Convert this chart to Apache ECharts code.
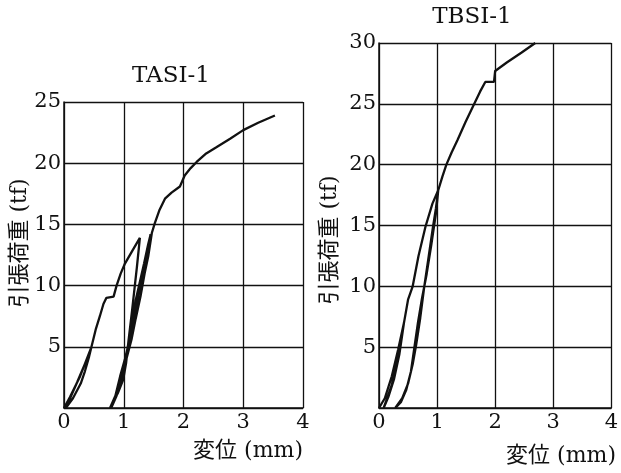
<!DOCTYPE html>
<html>
<head>
<meta charset="utf-8">
<title>TASI-1 / TBSI-1</title>
<script src="https://cdn.jsdelivr.net/npm/echarts@6.0.0/dist/echarts.min.js"></script>
<style>
  html, body { margin: 0; padding: 0; background: #fff; }
  #chart { width: 621px; height: 473px; }
</style>
</head>
<body>
<div id="chart"></div>
<script>
  // 軸目盛
  var xTicks = [0, 1, 2, 3, 4];
  var yTicksA = [0, 5, 10, 15, 20, 25];
  var yTicksB = [0, 5, 10, 15, 20, 25, 30];

  // TASI-1 : [変位 mm, 荷重 tf]
  var tasiLoad1 = [[0, 0], [0.1, 0.9], [0.27, 2.6], [0.46, 5.0]];
  var tasiUnload1 = [[0.42, 4.2], [0.35, 3.0], [0.28, 2.0], [0.15, 0.8], [0.03, 0]];
  var tasiReload1 = [[0.12, 1.0], [0.22, 2.1], [0.35, 3.6], [0.46, 5.0], [0.53, 6.4],
    [0.6, 7.5], [0.66, 8.5], [0.71, 9.0], [0.83, 9.1], [0.88, 10.0], [0.95, 11.0],
    [1.02, 11.8], [1.15, 12.9], [1.27, 13.9]];
  var tasiUnload2 = [[1.22, 11.5], [1.14, 8.0], [1.08, 5.5], [1.04, 3.7], [0.99, 2.3],
    [0.9, 1.2], [0.77, 0]];
  var tasiReload2 = [[0.86, 1.0], [0.94, 2.6], [1.02, 4.0], [1.10, 5.6], [1.17, 7.3],
    [1.24, 9.1], [1.32, 11.0], [1.38, 12.4], [1.45, 14.2]];
  var tasiUnload3 = [[1.41, 13.4], [1.34, 11.8], [1.2, 8.8], [1.12, 6.5], [1.06, 4.8],
    [1.0, 3.1], [0.9, 1.4], [0.79, 0]];
  var tasiReload3 = [[0.88, 1.0], [0.97, 2.6], [1.05, 4.1], [1.13, 5.6], [1.2, 7.3],
    [1.28, 9.1], [1.35, 11.0], [1.41, 12.4], [1.47, 14.3], [1.52, 15.1], [1.6, 16.2],
    [1.69, 17.1], [1.8, 17.6], [1.94, 18.1], [2.02, 19.0], [2.12, 19.6], [2.22, 20.1],
    [2.38, 20.8], [2.55, 21.3], [2.78, 22.0], [3.0, 22.7], [3.25, 23.3], [3.53, 23.9]];

  // TBSI-1 : [変位 mm, 荷重 tf]
  var tbsiLoad1 = [[0, 0], [0.1, 0.8], [0.22, 2.6], [0.33, 4.8], [0.43, 7.0]];
  var tbsiUnload1 = [[0.38, 5.4], [0.3, 3.4], [0.22, 1.9], [0.14, 0.8], [0.08, 0]];
  var tbsiReload1 = [[0.16, 0.9], [0.26, 2.4], [0.35, 4.4], [0.43, 7.0], [0.5, 8.9],
    [0.58, 10.0], [0.68, 12.5], [0.8, 14.9], [0.92, 16.8], [1.02, 17.9]];
  var tbsiUnload2 = [[0.98, 16.0], [0.9, 13.4], [0.82, 11.0], [0.74, 9.0], [0.67, 7.0],
    [0.61, 5.0], [0.55, 3.0], [0.47, 1.5], [0.38, 0.5], [0.28, 0]];
  var tbsiReload2 = [[0.4, 0.8], [0.5, 2.0], [0.58, 3.6], [0.64, 5.2], [0.71, 7.4],
    [0.78, 10.0], [0.86, 12.6], [0.93, 14.9], [0.98, 16.4], [1.02, 17.9], [1.09, 19.0],
    [1.16, 20.0], [1.25, 21.0], [1.35, 22.0], [1.49, 23.5], [1.63, 24.9], [1.74, 26.0],
    [1.83, 26.8], [1.98, 26.8], [2.0, 27.7], [2.2, 28.4], [2.45, 29.2], [2.69, 30.0]];

  var tasiData = [].concat(tasiLoad1, tasiUnload1, tasiReload1, tasiUnload2,
    tasiReload2, tasiUnload3, tasiReload3);
  var tbsiData = [].concat(tbsiLoad1, tbsiUnload1, tbsiReload1, tbsiUnload2, tbsiReload2);

  var serif = '"DejaVu Serif", "Noto Sans CJK JP", serif';
  var ink = '#111';

  function makeX(gridIndex) {
    return {
      type: 'value', gridIndex: gridIndex,
      min: xTicks[0], max: xTicks[xTicks.length - 1], interval: 1,
      axisLine: { show: true, onZero: false, lineStyle: { color: ink, width: 1.5 } },
      axisTick: { show: false },
      axisLabel: { color: ink, fontFamily: serif, fontSize: 21, margin: 4 },
      splitLine: { show: true, lineStyle: { color: ink, width: 1.3 } }
    };
  }
  function makeY(gridIndex, ticks) {
    return {
      type: 'value', gridIndex: gridIndex,
      min: ticks[0], max: ticks[ticks.length - 1], interval: 5,
      axisLine: { show: true, onZero: false, lineStyle: { color: ink, width: 1.5 } },
      axisTick: { show: false },
      axisLabel: { color: ink, fontFamily: serif, fontSize: 21, margin: 3, showMinLabel: false },
      splitLine: { show: true, lineStyle: { color: ink, width: 1.3 } }
    };
  }
  function txt(x, y, text, align, size, rot) {
    return {
      type: 'text', x: x, y: y, rotation: rot || 0,
      style: {
        text: text, fill: ink, font: size + 'px ' + serif,
        align: align, verticalAlign: 'middle'
      }
    };
  }

  var chart = echarts.init(document.getElementById('chart'));
  chart.setOption({
    animation: false,
    grid: [
      { left: 64, top: 102, width: 239, height: 306 },
      { left: 379, top: 43, width: 238, height: 365 }
    ],
    xAxis: [makeX(0), makeX(1)],
    yAxis: [makeY(0, yTicksA), makeY(1, yTicksB)],
    series: [
      {
        name: 'TASI-1', type: 'line', xAxisIndex: 0, yAxisIndex: 0,
        data: tasiData, showSymbol: false, symbol: 'none', smooth: false,
        lineStyle: { color: ink, width: 2.3 }
      },
      {
        name: 'TBSI-1', type: 'line', xAxisIndex: 1, yAxisIndex: 1,
        data: tbsiData, showSymbol: false, symbol: 'none', smooth: false,
        lineStyle: { color: ink, width: 2.3 }
      }
    ],
    graphic: [
      txt(171, 76, 'TASI-1', 'center', 23),
      txt(472, 17, 'TBSI-1', 'center', 23),
      txt(303, 451, '変位 (mm)', 'right', 22),
      txt(616, 456, '変位 (mm)', 'right', 22),
      txt(20, 243, '引張荷重 (tf)', 'center', 22, Math.PI / 2),
      txt(330, 240, '引張荷重 (tf)', 'center', 22, Math.PI / 2)
    ]
  });
</script>
</body>
</html>
